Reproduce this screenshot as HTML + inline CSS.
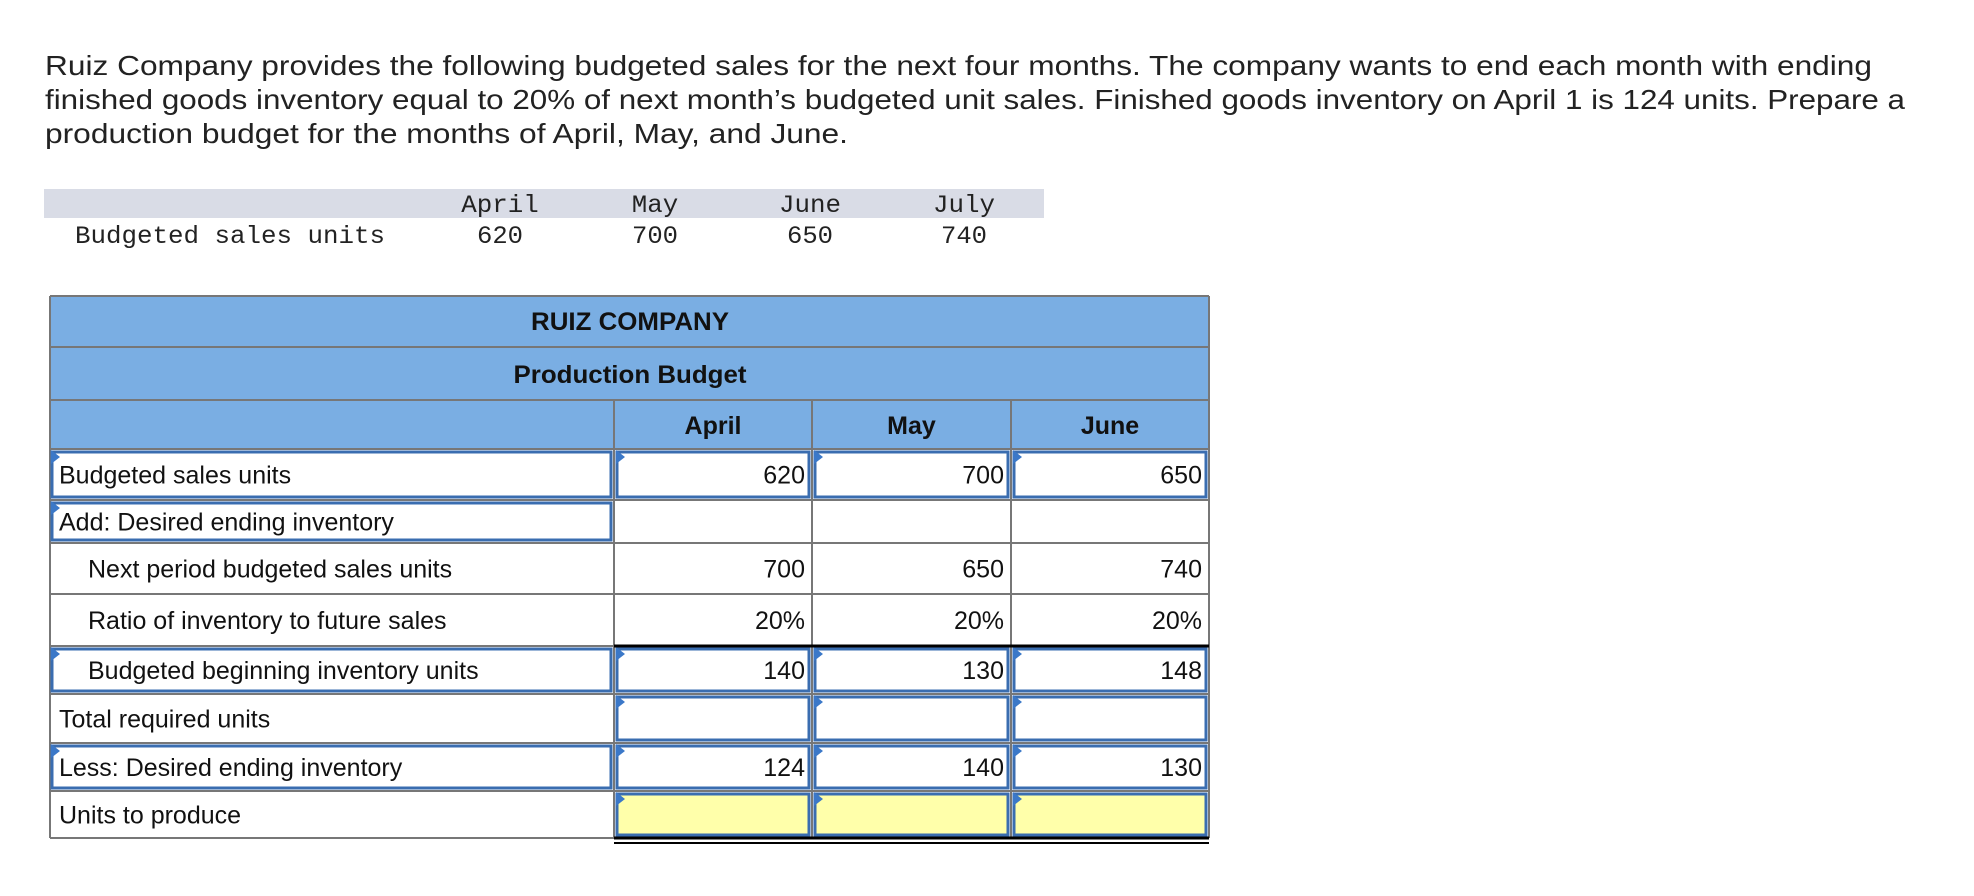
<!DOCTYPE html>
<html><head><meta charset="utf-8"><style>
html,body{margin:0;padding:0;background:#fff;width:1974px;height:896px;overflow:hidden}
svg{display:block}
</style></head><body>
<svg id="s" width="1974" height="896" xmlns="http://www.w3.org/2000/svg">
<g font-family="Liberation Sans, sans-serif" font-size="28" fill="#222">
<text x="45" y="75" textLength="1827" lengthAdjust="spacingAndGlyphs">Ruiz Company provides the following budgeted sales for the next four months. The company wants to end each month with ending</text>
<text x="45" y="109" textLength="1860" lengthAdjust="spacingAndGlyphs">finished goods inventory equal to 20% of next month’s budgeted unit sales. Finished goods inventory on April 1 is 124 units. Prepare a</text>
<text x="45" y="143" textLength="803" lengthAdjust="spacingAndGlyphs">production budget for the months of April, May, and June.</text>
</g>
<rect x="44" y="189" width="1000" height="29" fill="#d9dce6"/>
<g id="small" font-family="Liberation Mono, monospace" font-size="25" fill="#222">
<text x="75" y="243" textLength="310" lengthAdjust="spacingAndGlyphs">Budgeted sales units</text>
</g>
<g id="main"></g>
</svg>
<script>
const months=['April','May','June','July'];
const sales=[620,700,650,740];
const budgetMonths=['April','May','June'];
const rowLabels=['Budgeted sales units','Add: Desired ending inventory','Next period budgeted sales units','Ratio of inventory to future sales','Budgeted beginning inventory units','Total required units','Less: Desired ending inventory','Units to produce'];
const rowIndent=[0,0,1,1,1,0,0,0];
const rowVals=[['620','700','650'],['','',''],['700','650','740'],['20%','20%','20%'],['140','130','148'],['','',''],['124','140','130'],['','','']];
const labelInput=[1,1,0,0,1,0,1,0];
const valInput=[1,0,0,0,1,1,1,1];

const NS='http://www.w3.org/2000/svg';
function mk(p,t,a,txt){const e=document.createElementNS(NS,t);for(const k in a)e.setAttribute(k,a[k]);if(txt!==undefined)e.textContent=txt;p.appendChild(e);return e;}
const small=document.getElementById('small');
const mcx=[500,655,810,964];
months.forEach((m,i)=>{
 const t=mk(small,'text',{x:mcx[i],y:212,'text-anchor':'middle','textLength':m.length*15.5,'lengthAdjust':'spacingAndGlyphs'},m);
 
 
 const v=mk(small,'text',{x:mcx[i],y:243,'text-anchor':'middle','textLength':46,'lengthAdjust':'spacingAndGlyphs'},String(sales[i]));
 
 
});
const g=document.getElementById('main');
const X0=50,X1=1209,cols=[614,812,1011,1209];
const rowTop=[449,500,543,594,646,694,743,791,838];
const F='Liberation Sans, sans-serif';
mk(g,'rect',{x:X0,y:296,width:X1-X0,height:153,fill:'#7aaee3'});
[296,347,400,449].forEach(y=>mk(g,'line',{x1:X0,x2:X1,y1:y,y2:y,stroke:'#777','stroke-width':2}));
mk(g,'line',{x1:X0,x2:X0,y1:296,y2:838,stroke:'#777','stroke-width':2});
mk(g,'line',{x1:X1,x2:X1,y1:296,y2:838,stroke:'#777','stroke-width':2});
let t=mk(g,'text',{x:630,y:330,'text-anchor':'middle','font-family':F,'font-weight':'bold','font-size':25,fill:'#111','textLength':198,'lengthAdjust':'spacingAndGlyphs'},'RUIZ COMPANY');

t=mk(g,'text',{x:630,y:383,'text-anchor':'middle','font-family':F,'font-weight':'bold','font-size':25,fill:'#111','textLength':233,'lengthAdjust':'spacingAndGlyphs'},'Production Budget');

const colL=[614,812,1011];
budgetMonths.forEach((m,i)=>{
 mk(g,'line',{x1:colL[i],x2:colL[i],y1:400,y2:838,stroke:'#777','stroke-width':2});
 const h=mk(g,'text',{x:(colL[i]+cols[i+1])/2,y:434,'text-anchor':'middle','font-family':F,'font-weight':'bold','font-size':25,fill:'#111'},m);
 
 
});
function tri(x,y){mk(g,'path',{d:`M${x} ${y}L${x+9} ${y+7}L${x} ${y+14}Z`,fill:'#3b78c8'});}
rowLabels.forEach((lab,r)=>{
 const y0=rowTop[r],y1=rowTop[r+1],cy=(y0+y1)/2;
 mk(g,'line',{x1:X0,x2:X1,y1:y1,y2:y1,stroke:'#777','stroke-width':2});
 if(labelInput[r]){mk(g,'rect',{x:X0+2,y:y0+3,width:colL[0]-X0-5,height:y1-y0-6,fill:'#fff',stroke:'#3a6db0','stroke-width':3});tri(X0+1,y0+1);}
 const lt=mk(g,'text',{x:rowIndent[r]?88:59,y:cy+9,'font-family':F,'font-size':25,fill:'#111'},lab);
 
 
 for(let c=0;c<3;c++){
  const xl=colL[c],xr=cols[c+1];
  if(valInput[r]){
   const cell=mk(g,'rect',{x:xl+3,y:y0+3,width:xr-xl-6,height:y1-y0-6,fill:r===7?'#ffffaa':'#fff',stroke:'#3a6db0','stroke-width':3});
   
   
   tri(xl+2,y0+1);
  }
  if(rowVals[r][c]!==''){
   const v=mk(g,'text',{x:xr-7,y:cy+9,'text-anchor':'end','font-family':F,'font-size':25,fill:'#111'},rowVals[r][c]);
   
   
  }
 }
});
mk(g,'line',{x1:614,x2:1209,y1:646,y2:646,stroke:'#000','stroke-width':3});
mk(g,'line',{x1:614,x2:1209,y1:838,y2:838,stroke:'#000','stroke-width':3});
mk(g,'line',{x1:614,x2:1209,y1:843,y2:843,stroke:'#000','stroke-width':2});
mk(g,'line',{x1:X0,x2:614,y1:838,y2:838,stroke:'#777','stroke-width':2});
</script>
</body></html>
